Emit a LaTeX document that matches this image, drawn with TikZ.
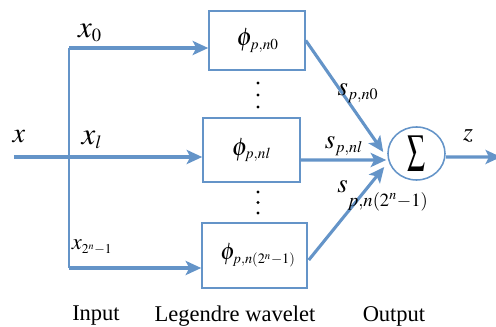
\documentclass[tikz,border=0pt]{standalone}
\usepackage{mathptmx}
\usepackage{fontspec}
\setmainfont{Liberation Serif}
\usepackage{tikz}
\usetikzlibrary{
arrows.meta,
calc,
shapes.geometric
}
\definecolor{lwblue}{RGB}{100,148,200}
\renewcommand{\defaultscriptratio}{.6}
\renewcommand{\defaultscriptscriptratio}{.45}

\tikzset{
  wbox/.style={draw=lwblue, line width=1.1pt, inner sep=0pt},
  sig/.style={-{Stealth[length=11pt, width=10pt, inset=2.5pt]}, lwblue, line width=2.2pt},
  lbl/.style={inner sep=0pt, font=\fontsize{20}{24}\selectfont},
  tag/.style={inner sep=0pt, font=\fontsize{16}{19}\selectfont}
}

\begin{document}
\begin{tikzpicture}[x=0.025cm, y=-0.025cm]
\useasboundingbox (0,0) rectangle (496,327);

% Legendre wavelet boxes
\node[wbox, minimum width=2.4cm, minimum height=1.475cm, font=\fontsize{18}{20}\selectfont]
  (phi0) at (257,40.5) {\hspace{1pt}$\phi_{p,n0}$};
\node[wbox, minimum width=2.425cm, minimum height=1.6cm, font=\fontsize{18}{20}\selectfont]
  (phil) at (251.5,150) {$\phi_{p,nl}$};
\node[wbox, minimum width=2.625cm, minimum height=1.625cm, font=\fontsize{17}{19}\selectfont]
  (phin) at (254.5,255.5) {\hspace{5pt}$\phi_{p,n(2^n-1)}$};

% Vertical dots between boxes
\foreach \y in {83,95,107,192,202.5,213}
  \fill (258,\y) circle (1.7);

% Sum node
\node[ellipse, draw=lwblue, line width=1.1pt, minimum width=1.425cm, minimum height=1.325cm, inner sep=0pt]
  (sum) at (416.5,153.5) {\fontsize{20}{22}\selectfont\scalebox{0.9}[1.45]{$\sum$}};

% Input branches
\coordinate (xin) at (14,157);
\coordinate (top) at (69,48);
\coordinate (bot) at (69,268);
\draw[lwblue, line width=1.3pt] (top) -- (bot);
\draw[sig] (xin) -- (xin -| phil.west);
\draw[sig] (top) -- (top -| phi0.west);
\draw[sig] (bot) -- (bot -| phin.west);

% Weighted outputs into the sum
\draw[sig] (phi0.east) -- ($(sum.west)+(-4,-1.5)$);
\draw[sig] ($(phil.east)+(0,10)$) -- ($(sum.west)+(-1,6.5)$);
\draw[sig] ($(phin.east)+(1,4.5)$) -- ($(sum.west)+(-3,13.5)$);

% Output
\coordinate (zout) at (501,157);
\draw[sig] ($(sum.east)+(0,3.5)$) -- (zout);

% Signal labels
\node[lbl] (xlbl) at (19,137) {$x$};
\node[lbl, font=\fontsize{22}{24}\selectfont] (x0lbl) at (90,33) {$x_0$};
\node[lbl, font=\fontsize{22}{24}\selectfont] (xllbl) at (92,140) {$x_l$};
\node[lbl, font=\fontsize{16}{18}\selectfont] (xnlbl) at (92,247) {$x_{2^n-1}$};
\node[lbl, font=\fontsize{19}{21}\selectfont] (s0lbl) at (358,93) {$s_{p,n0}$};
\node[lbl, font=\fontsize{19}{21}\selectfont] (sllbl) at (344,146) {$s_{p,nl}$};
\node[lbl, font=\fontsize{19}{21}\selectfont, anchor=west] (snlbl) at (337,196)
  {$s_{\lower7pt\hbox{\fontsize{22}{24}\selectfont$\scriptstyle p,n(2^n-1)$}}$};
\node[lbl, font=\fontsize{18}{20}\selectfont] (zlbl) at (468,136) {$z$};

% Layer captions
\node[tag] (inp) at (96,316) {Input};
\node[tag] (leg) at (235,316) {Legendre wavelet};
\node[tag] (outp) at (394,316) {Output};

\end{tikzpicture}
\end{document}
